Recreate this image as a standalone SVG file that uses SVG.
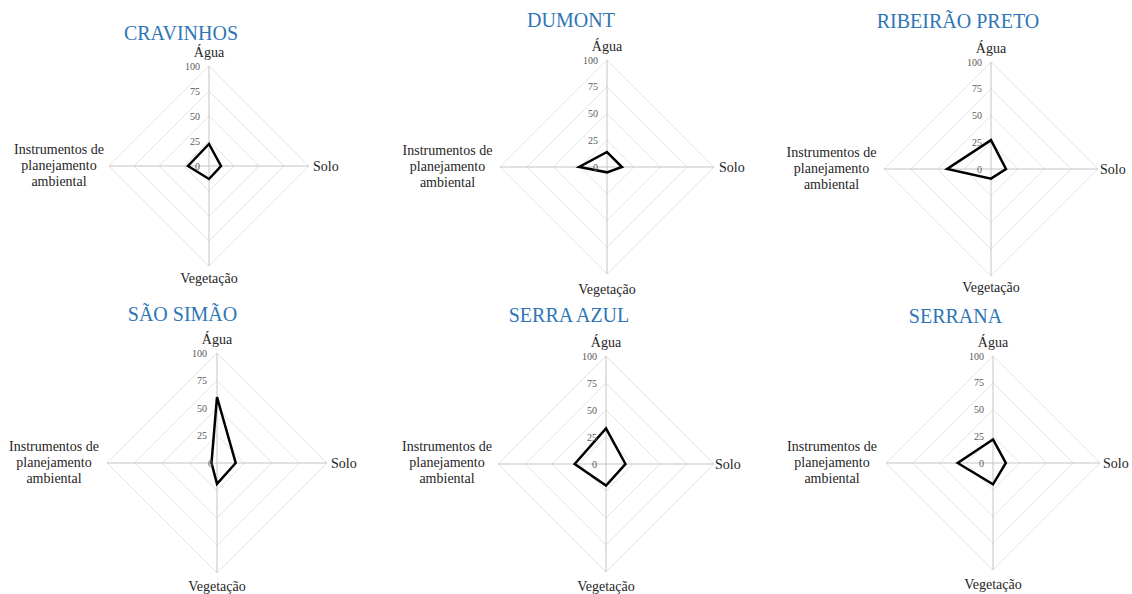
<svg xmlns="http://www.w3.org/2000/svg" width="1132" height="594" viewBox="0 0 1132 594">
<style>
.grid{fill:none;stroke:#e3e3e3;stroke-width:1;vector-effect:non-scaling-stroke}
.axis{stroke:#c4c4c4;stroke-width:1;vector-effect:non-scaling-stroke}
.data{fill:none;stroke:#000;stroke-width:2.5;stroke-linejoin:miter;vector-effect:non-scaling-stroke}
text{font-family:'Liberation Serif','Times New Roman','DejaVu Serif',serif}
.title{font-size:20px;fill:#2e75b6;text-anchor:middle}
.lbl{font-size:14px;fill:#262626}
.mid{text-anchor:middle}
.tick{font-size:10px;fill:#595959;text-anchor:end}
</style>
<defs>
<g id="web">
<polygon class="grid" points="0,-25 25,0 0,25 -25,0"/>
<polygon class="grid" points="0,-50 50,0 0,50 -50,0"/>
<polygon class="grid" points="0,-75 75,0 0,75 -75,0"/>
<polygon class="grid" points="0,-100 100,0 0,100 -100,0"/>
<line class="axis" x1="0" y1="-100" x2="0" y2="100"/>
<line class="axis" x1="-100" y1="0" x2="100" y2="0"/>
</g>
</defs>
<rect width="1132" height="594" fill="#fff"/>

<g id="cravinhos" font-family="Liberation Serif, serif">
<g transform="translate(209,166)"><use href="#web"/><polygon class="data" points="0,-22 12,0 0,13 -21,0"/></g>
<text class="title" x="181" y="40">CRAVINHOS</text>
<text class="tick" x="200" y="69.5">100</text>
<text class="tick" x="200" y="94.5">75</text>
<text class="tick" x="200" y="119.5">50</text>
<text class="tick" x="200" y="144.5">25</text>
<text class="tick" x="200" y="169.5">0</text>
<text class="lbl mid" x="209" y="57">Água</text>
<text class="lbl" x="313" y="171">Solo</text>
<text class="lbl mid" x="209" y="283">Vegetação</text>
<text class="lbl mid" x="59" y="154">Instrumentos de</text>
<text class="lbl mid" x="59" y="170">planejamento</text>
<text class="lbl mid" x="59" y="186">ambiental</text>
</g>

<g id="dumont">
<g transform="translate(607,167) scale(1.07)"><use href="#web"/><polygon class="data" points="0,-14 14,0 0,5 -26,0"/></g>
<text class="title" x="571" y="27">DUMONT</text>
<text class="tick" x="598" y="63.5">100</text>
<text class="tick" x="598" y="90.3">75</text>
<text class="tick" x="598" y="117">50</text>
<text class="tick" x="598" y="143.8">25</text>
<text class="tick" x="598" y="170.5">0</text>
<text class="lbl mid" x="607" y="51">Água</text>
<text class="lbl" x="719" y="172">Solo</text>
<text class="lbl mid" x="607" y="294">Vegetação</text>
<text class="lbl mid" x="447.5" y="155">Instrumentos de</text>
<text class="lbl mid" x="447.5" y="171">planejamento</text>
<text class="lbl mid" x="447.5" y="187">ambiental</text>
</g>

<g id="ribeirao-preto">
<g transform="translate(991,169) scale(1.07)"><use href="#web"/><polygon class="data" points="0,-27 14,0 0,9 -41,0"/></g>
<text class="title" x="958" y="28">RIBEIRÃO PRETO</text>
<text class="tick" x="982" y="65.5">100</text>
<text class="tick" x="982" y="92.3">75</text>
<text class="tick" x="982" y="119">50</text>
<text class="tick" x="982" y="145.8">25</text>
<text class="tick" x="982" y="172.5">0</text>
<text class="lbl mid" x="991" y="53">Água</text>
<text class="lbl" x="1100" y="174">Solo</text>
<text class="lbl mid" x="991" y="292">Vegetação</text>
<text class="lbl mid" x="831.5" y="157">Instrumentos de</text>
<text class="lbl mid" x="831.5" y="173">planejamento</text>
<text class="lbl mid" x="831.5" y="189">ambiental</text>
</g>

<g id="sao-simao">
<g transform="translate(217,463) scale(1.1)"><use href="#web"/><polygon class="data" points="0,-60 17,0 0,19 -5,0"/></g>
<text class="title" x="182.5" y="321">SÃO SIMÃO</text>
<text class="tick" x="207" y="356.5">100</text>
<text class="tick" x="207" y="384">75</text>
<text class="tick" x="207" y="411.5">50</text>
<text class="tick" x="207" y="439">25</text>
<text class="tick" x="213" y="466.5">0</text>
<text class="lbl mid" x="217" y="344">Água</text>
<text class="lbl" x="331" y="468">Solo</text>
<text class="lbl mid" x="217" y="591">Vegetação</text>
<text class="lbl mid" x="54" y="451">Instrumentos de</text>
<text class="lbl mid" x="54" y="467">planejamento</text>
<text class="lbl mid" x="54" y="483">ambiental</text>
</g>

<g id="serra-azul">
<g transform="translate(606,464) scale(1.08)"><use href="#web"/><polygon class="data" points="0,-33 18,0 0,20 -29,0"/></g>
<text class="title" x="569" y="322">SERRA AZUL</text>
<text class="tick" x="597" y="359.5">100</text>
<text class="tick" x="597" y="386.5">75</text>
<text class="tick" x="597" y="413.5">50</text>
<text class="tick" x="597" y="440.5">25</text>
<text class="tick" x="597" y="467.5">0</text>
<text class="lbl mid" x="606" y="347">Água</text>
<text class="lbl" x="715" y="469">Solo</text>
<text class="lbl mid" x="606" y="591">Vegetação</text>
<text class="lbl mid" x="447" y="451">Instrumentos de</text>
<text class="lbl mid" x="447" y="467">planejamento</text>
<text class="lbl mid" x="447" y="483">ambiental</text>
</g>

<g id="serrana">
<g transform="translate(993,463) scale(1.07)"><use href="#web"/><polygon class="data" points="0,-22 12,0 0,20 -33,0"/></g>
<text class="title" x="955.5" y="323">SERRANA</text>
<text class="tick" x="984" y="359.5">100</text>
<text class="tick" x="984" y="386.3">75</text>
<text class="tick" x="984" y="413">50</text>
<text class="tick" x="984" y="439.8">25</text>
<text class="tick" x="984" y="466.5">0</text>
<text class="lbl mid" x="993" y="347">Água</text>
<text class="lbl" x="1103" y="468">Solo</text>
<text class="lbl mid" x="993" y="589">Vegetação</text>
<text class="lbl mid" x="832" y="451">Instrumentos de</text>
<text class="lbl mid" x="832" y="467">planejamento</text>
<text class="lbl mid" x="832" y="483">ambiental</text>
</g>
</svg>
